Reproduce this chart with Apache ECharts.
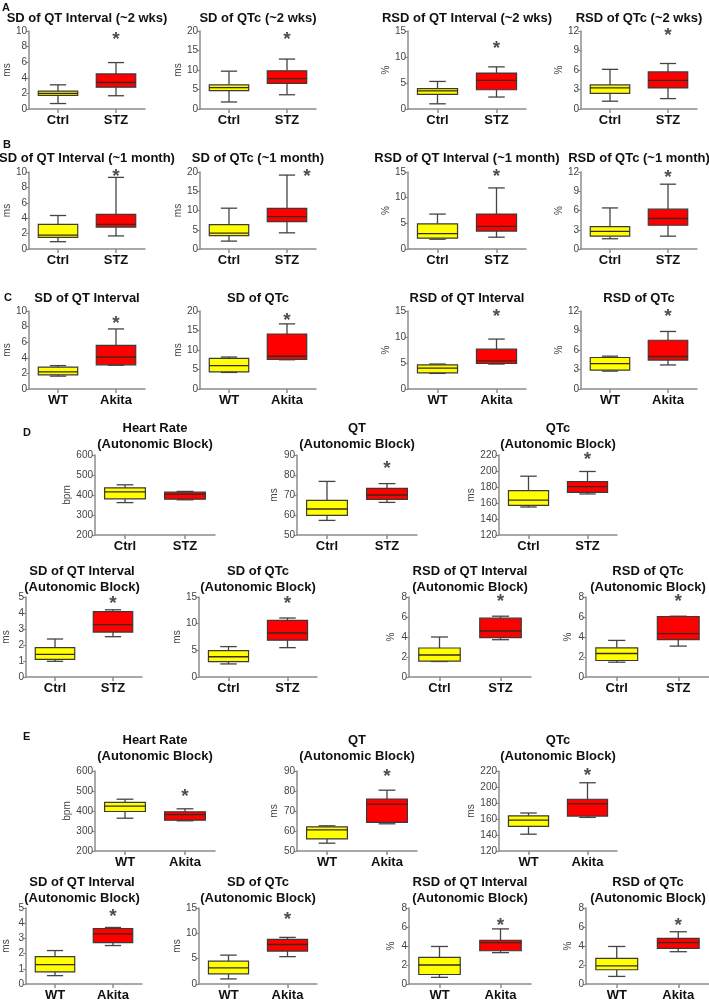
<!DOCTYPE html>
<html><head><meta charset="utf-8">
<script src="https://cdn.jsdelivr.net/npm/echarts/dist/echarts.min.js"></script>
<style>html,body{margin:0;padding:0;background:#fff}#c{width:709px;height:1002px}</style>
</head><body><div id="c"></div>
<script>
// ---------------- DATA ----------------
const catsSTZ = ['Ctrl', 'STZ'];
const catsAkita = ['WT', 'Akita'];

// Row A (~2 wks)  box = [min, Q1, median, Q3, max]
const titlesA = ['SD of QT Interval (~2 wks)', 'SD of QTc (~2 wks)', 'RSD of QT Interval (~2 wks)', 'RSD of QTc (~2 wks)'];
const unitsA = ['ms', 'ms', '%', '%'];
const yMaxA = [10, 20, 15, 12];
const yStepA = [2, 5, 5, 3];
const boxA1 = [[0.7, 1.75, 2.0, 2.3, 3.1], [1.7, 2.8, 3.4, 4.5, 5.95]];
const boxA2 = [[1.8, 4.7, 5.5, 6.2, 9.7], [3.65, 6.55, 7.8, 9.8, 12.8]];
const boxA3 = [[1.0, 2.8, 3.5, 3.9, 5.3], [2.3, 3.7, 5.5, 6.9, 8.1]];
const boxA4 = [[1.2, 2.4, 3.25, 3.7, 6.1], [1.6, 3.25, 4.4, 5.7, 7.0]];
const starsA = [9.4, 18.9, 12.4, 11.9];

// Row B (~1 month)
const titlesB = ['SD of QT Interval (~1 month)', 'SD of QTc (~1 month)', 'RSD of QT Interval (~1 month)', 'RSD of QTc (~1 month)'];
const unitsB = ['ms', 'ms', '%', '%'];
const yMaxB = [10, 20, 15, 12];
const yStepB = [2, 5, 5, 3];
const boxB1 = [[0.95, 1.5, 1.8, 3.2, 4.35], [1.7, 2.85, 3.2, 4.5, 9.3]];
const boxB2 = [[2.05, 3.45, 4.1, 6.35, 10.6], [4.2, 7.1, 8.4, 10.55, 19.2]];
const boxB3 = [[1.9, 2.1, 3.0, 4.9, 6.8], [2.3, 3.5, 4.4, 6.8, 11.9]];
const boxB4 = [[1.6, 2.0, 2.75, 3.5, 6.4], [2.0, 3.7, 4.75, 6.2, 10.1]];
const starsB = [9.9, 19.7, 14.8, 11.8];

// Row C (Akita)
const titlesC = ['SD of QT Interval', 'SD of QTc', 'RSD of QT Interval', 'RSD of QTc'];
const unitsC = ['ms', 'ms', '%', '%'];
const yMaxC = [10, 20, 15, 12];
const yStepC = [2, 5, 5, 3];
const boxC1 = [[1.65, 1.8, 2.2, 2.8, 3.0], [3.05, 3.1, 4.1, 5.6, 7.7]];
const boxC2 = [[4.25, 4.4, 6.0, 7.85, 8.2], [7.5, 7.6, 8.4, 14.1, 16.7]];
const boxC3 = [[3.0, 3.1, 4.0, 4.65, 4.8], [4.8, 4.9, 5.4, 7.65, 9.6]];
const boxC4 = [[2.75, 2.9, 3.9, 4.85, 5.05], [3.7, 4.45, 5.0, 7.5, 8.85]];
const starsC = [8.85, 18.4, 14.7, 11.8];

// Rows D and E (Autonomic Block)
const titlesDE = ['Heart Rate\n(Autonomic Block)', 'QT\n(Autonomic Block)', 'QTc\n(Autonomic Block)',
  'SD of QT Interval\n(Autonomic Block)', 'SD of QTc\n(Autonomic Block)', 'RSD of QT Interval\n(Autonomic Block)', 'RSD of QTc\n(Autonomic Block)'];
const unitsDE = ['bpm', 'ms', 'ms', 'ms', 'ms', '%', '%'];
const yMinDE = [200, 50, 120, 0, 0, 0, 0];
const yMaxDE = [600, 90, 220, 5, 15, 8, 8];
const yStepDE = [100, 10, 20, 1, 5, 2, 2];

const boxD1 = [[362, 381, 416, 436, 451], [376, 379, 404, 414, 418]];
const boxD2 = [[57.3, 59.8, 63.0, 67.3, 76.8], [66.3, 67.8, 70.0, 73.3, 75.7]];
const boxD3 = [[155, 157, 163.7, 175.5, 193.5], [171.3, 173.4, 180.5, 186.8, 199.4]];
const boxD4 = [[0.98, 1.1, 1.42, 1.83, 2.375], [2.52, 2.81, 3.27, 4.08, 4.2]];
const boxD5 = [[2.45, 2.9, 3.8, 4.94, 5.7], [5.5, 6.9, 8.25, 10.6, 11.06]];
const boxD6 = [[1.55, 1.58, 2.2, 2.9, 4.0], [3.73, 3.93, 4.6, 5.88, 6.08]];
const boxD7 = [[1.48, 1.65, 2.35, 2.92, 3.66], [3.09, 3.73, 4.34, 6.05, 6.08]];
const starsD = [null, 85, 218.7, 4.8, 14.4, 7.9, 7.9];

const boxE1 = [[364, 397.5, 424, 443, 459], [351, 354, 382, 396, 411]];
const boxE2 = [[53.9, 56.05, 60.6, 62.1, 62.6], [63.6, 64.3, 73.4, 76.0, 80.4]];
const boxE3 = [[141, 150.7, 158.7, 164, 167.5], [162, 163.7, 178.8, 184.7, 205.3]];
const boxE4 = [[0.55, 0.8, 1.27, 1.8, 2.2], [2.53, 2.72, 3.3, 3.65, 3.72]];
const boxE5 = [[1.0, 2.0, 3.2, 4.5, 5.7], [5.4, 6.5, 7.8, 8.8, 9.2]];
const boxE6 = [[0.7, 1.0, 2.0, 2.8, 3.95], [3.3, 3.5, 4.35, 4.6, 5.8]];
const boxE7 = [[0.8, 1.5, 1.9, 2.7, 3.95], [3.4, 3.75, 4.35, 4.8, 5.5]];
const starsE = [491, 89, 218.7, 4.7, 13.4, 6.5, 6.5];

// ---------------- LAYOUT ----------------
const FONT = "'Liberation Sans', Arial, Helvetica, sans-serif";
const colsAC = [[29, 116], [200, 116], [408, 118], [581, 116]];
const gapsAC = [13, 13, 13, 14];
const colsTop = [[95, 120], [297, 120], [499, 118]];
const gapsTop = [21, 18, 21];
const colsBot = [[22, 120], [199, 118], [409, 122], [586, 124]];
const gapsBot = [15, 11, 13, 13];

const panels = [];
function addRow(titles, units, yMin, yMax, yStep, boxes, stars, cats, cols, gaps, top, height, titleTop, starDx) {
  for (let i = 0; i < boxes.length; i++) {
    panels.push({
      title: titles[i], unit: units[i], yMin: yMin ? yMin[i] : 0, yMax: yMax[i], yStep: yStep[i],
      box: boxes[i], star: stars[i], cats: cats,
      left: cols[i][0], width: cols[i][1], gap: gaps[i], top: top, height: height,
      titleTop: titleTop, starDx: starDx ? starDx[i] : 0
    });
  }
}
addRow(titlesA, unitsA, null, yMaxA, yStepA, [boxA1, boxA2, boxA3, boxA4], starsA, catsSTZ, colsAC, gapsAC, 31, 78, 10, null);
addRow(titlesB, unitsB, null, yMaxB, yStepB, [boxB1, boxB2, boxB3, boxB4], starsB, catsSTZ, colsAC, gapsAC, 172, 77, 150, [0, 20, 0, 0]);
addRow(titlesC, unitsC, null, yMaxC, yStepC, [boxC1, boxC2, boxC3, boxC4], starsC, catsAkita, colsAC, gapsAC, 311, 78, 290, null);
addRow(titlesDE.slice(0, 3), unitsDE.slice(0, 3), yMinDE.slice(0, 3), yMaxDE.slice(0, 3), yStepDE.slice(0, 3),
  [boxD1, boxD2, boxD3], starsD.slice(0, 3), catsSTZ, colsTop, gapsTop, 455, 80, 420, null);
addRow(titlesDE.slice(3), unitsDE.slice(3), yMinDE.slice(3), yMaxDE.slice(3), yStepDE.slice(3),
  [boxD4, boxD5, boxD6, boxD7], starsD.slice(3), catsSTZ, colsBot, gapsBot, 597, 80, 563, null);
addRow(titlesDE.slice(0, 3), unitsDE.slice(0, 3), yMinDE.slice(0, 3), yMaxDE.slice(0, 3), yStepDE.slice(0, 3),
  [boxE1, boxE2, boxE3], starsE.slice(0, 3), catsAkita, colsTop, gapsTop, 771, 80, 732, null);
addRow(titlesDE.slice(3), unitsDE.slice(3), yMinDE.slice(3), yMaxDE.slice(3), yStepDE.slice(3),
  [boxE4, boxE5, boxE6, boxE7], starsE.slice(3), catsAkita, colsBot, gapsBot, 908, 79, 874, null);

const AXIS_COLOR = '#8c8c8c';
const grids = [], xAxes = [], yAxes = [], series = [], graphics = [];

function renderBox(params, api) {
  const idx = api.value(0);
  const band = api.size([1, 0])[0];
  const bw = band * 0.68, cw = band * 0.28;
  const pMin = api.coord([idx, api.value(1)]);
  const pQ1 = api.coord([idx, api.value(2)]);
  const pMed = api.coord([idx, api.value(3)]);
  const pQ3 = api.coord([idx, api.value(4)]);
  const pMax = api.coord([idx, api.value(5)]);
  const x = pMed[0];
  const fill = idx === 0 ? '#ffff00' : '#ff0000';
  const lineS = { stroke: '#444', lineWidth: 1.3 };
  return {
    type: 'group',
    children: [
      { type: 'line', shape: { x1: x, y1: pQ3[1], x2: x, y2: pMax[1] }, style: lineS },
      { type: 'line', shape: { x1: x, y1: pQ1[1], x2: x, y2: pMin[1] }, style: lineS },
      { type: 'line', shape: { x1: x - cw / 2, y1: pMax[1], x2: x + cw / 2, y2: pMax[1] }, style: lineS },
      { type: 'line', shape: { x1: x - cw / 2, y1: pMin[1], x2: x + cw / 2, y2: pMin[1] }, style: lineS },
      { type: 'rect', shape: { x: x - bw / 2, y: pQ3[1], width: bw, height: pQ1[1] - pQ3[1] },
        style: { fill: fill, stroke: '#3a3a3a', lineWidth: 1.2 } },
      { type: 'line', shape: { x1: x - bw / 2, y1: pMed[1], x2: x + bw / 2, y2: pMed[1] },
        style: { stroke: '#3a2a1a', lineWidth: 1.3 } }
    ]
  };
}

panels.forEach((p, k) => {
  grids.push({ left: p.left, top: p.top, width: p.width, height: p.height });
  xAxes.push({
    type: 'category', gridIndex: k, data: p.cats, boundaryGap: true,
    axisLine: { show: true, lineStyle: { color: AXIS_COLOR, width: 1.5 } },
    axisTick: { show: true, alignWithLabel: true, length: 4, lineStyle: { color: AXIS_COLOR, width: 1.5 } },
    axisLabel: { color: '#111', fontWeight: 'bold', fontSize: 13, margin: 5, fontFamily: FONT },
    splitLine: { show: false }
  });
  yAxes.push({
    type: 'value', gridIndex: k, min: p.yMin, max: p.yMax, interval: p.yStep,
    name: p.unit, nameLocation: 'middle', nameGap: p.gap,
    nameTextStyle: { color: '#444', fontSize: 10, fontFamily: FONT },
    axisLine: { show: true, lineStyle: { color: AXIS_COLOR, width: 1.5 } },
    axisTick: { show: true, length: 3, lineStyle: { color: AXIS_COLOR, width: 1.2 } },
    axisLabel: { color: '#444', fontSize: 10, margin: 2, fontFamily: FONT },
    splitLine: { show: false }
  });
  series.push({
    type: 'custom', xAxisIndex: k, yAxisIndex: k, renderItem: renderBox,
    data: p.box.map((b, i) => [i].concat(b)),
    encode: { x: 0, y: [1, 2, 3, 4, 5] }, clip: false, silent: true
  });
  if (p.star !== null && p.star !== undefined) {
    series.push({
      type: 'scatter', xAxisIndex: k, yAxisIndex: k, symbol: 'circle', symbolSize: 1,
      itemStyle: { color: 'rgba(0,0,0,0)' },
      data: [[1, p.star]], silent: true, z: 10,
      label: { show: true, formatter: '*', position: 'inside', offset: [p.starDx, 4],
        fontSize: 19, fontWeight: 'bold', color: '#222', fontFamily: FONT }
    });
  }
  graphics.push({
    type: 'text', x: p.left + p.width / 2, y: p.titleTop,
    style: { text: p.title, align: 'center', verticalAlign: 'top', fill: '#111',
      font: 'bold 13px ' + FONT, lineHeight: 16 }
  });
});

const letters = [['A', 2, 2], ['B', 3, 139], ['C', 4, 292], ['D', 23, 427], ['E', 23, 731]];
letters.forEach(l => graphics.push({
  type: 'text', x: l[1], y: l[2],
  style: { text: l[0], fill: '#111', font: 'bold 11px ' + FONT, verticalAlign: 'top' }
}));

const chart = echarts.init(document.getElementById('c'), null, { renderer: 'canvas' });
chart.setOption({
  animation: false,
  backgroundColor: '#fff',
  grid: grids, xAxis: xAxes, yAxis: yAxes, series: series, graphic: graphics
});
</script></body></html>
